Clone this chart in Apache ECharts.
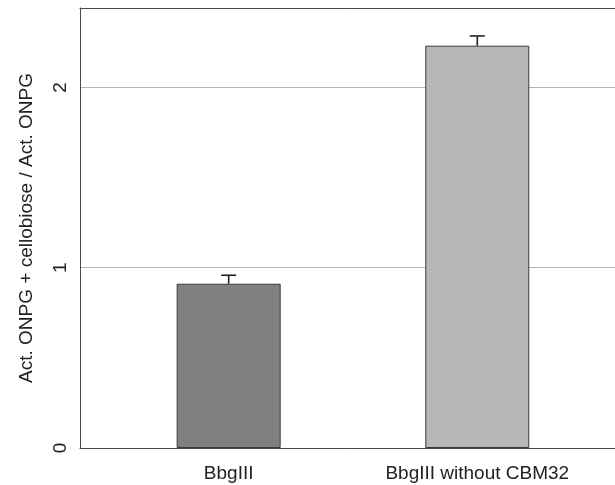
<!DOCTYPE html>
<html>
<head>
<meta charset="utf-8">
<script src="https://cdn.jsdelivr.net/npm/echarts@6/dist/echarts.min.js"></script>
<style>
  html, body { margin: 0; padding: 0; background: #fff; }
  #main { width: 615px; height: 485px; }
</style>
</head>
<body>
<div id="main"></div>
<script>
// bar positions, labels and values
let positions = [1, 2];
let categories = ['BbgIII', 'BbgIII without CBM32'];
let values = [0.911, 2.231];
let errTops = [0.958, 2.285];
let barColors = ['#808080', '#b7b7b7'];
let yTicks = [0, 1, 2];

let font = 'Liberation Sans, Arial, sans-serif';
let frame = {show: true, lineStyle: {color: '#4a4a4a', width: 1}};

let barData = [];
let errData = [];
for (let i = 0; i < positions.length; i++) {
    barData.push({value: [positions[i], values[i]], itemStyle: {color: barColors[i]}});
    errData.push([positions[i], values[i], errTops[i]]);
}

let option = {
    backgroundColor: '#fff',
    animation: false,
    grid: {left: 80, top: 8, right: 0, bottom: 37},
    xAxis: [{
        type: 'value',
        min: 0.402, max: 2.554,
        axisLine: frame,
        axisTick: {show: false},
        splitLine: {show: false},
        axisLabel: {
            customValues: positions,
            formatter: v => categories[positions.indexOf(v)] || '',
            color: '#222', fontSize: 19, fontFamily: font, margin: 16
        }
    }, {
        // top edge of the box
        type: 'value',
        position: 'top',
        min: 0.402, max: 2.554,
        axisLine: frame,
        axisTick: {show: false},
        axisLabel: {show: false},
        splitLine: {show: false}
    }],
    yAxis: {
        type: 'value',
        min: 0, max: 2.44, interval: 1,
        name: 'Act. ONPG + cellobiose / Act. ONPG',
        nameLocation: 'middle',
        nameGap: 44,
        nameRotate: 90,
        nameTextStyle: {color: '#222', fontSize: 19, fontFamily: font},
        axisLine: frame,
        axisTick: {show: false},
        axisLabel: {
            customValues: yTicks,
            rotate: 90,
            color: '#222', fontSize: 19, fontFamily: font, margin: 10
        },
        splitLine: {lineStyle: {color: '#b4b4b4', width: 1}}
    },
    series: [
        {
            type: 'bar',
            data: barData,
            barWidth: 104,
            itemStyle: {borderColor: '#3a3a3a', borderWidth: 1},
            z: 3
        },
        {
            type: 'custom',
            data: errData,
            z: 4,
            renderItem: function (params, api) {
                let x = api.value(0);
                let low = api.coord([x, api.value(1)]);
                let high = api.coord([x, api.value(2)]);
                let half = 7.5;
                let style = {stroke: '#222', lineWidth: 1.6};
                return {
                    type: 'group',
                    children: [
                        {type: 'line', shape: {x1: low[0], y1: low[1], x2: high[0], y2: high[1]}, style: style},
                        {type: 'line', shape: {x1: high[0] - half, y1: high[1], x2: high[0] + half, y2: high[1]}, style: style}
                    ]
                };
            }
        }
    ]
};

let chart = echarts.init(document.getElementById('main'));
chart.setOption(option);
</script>
</body>
</html>
